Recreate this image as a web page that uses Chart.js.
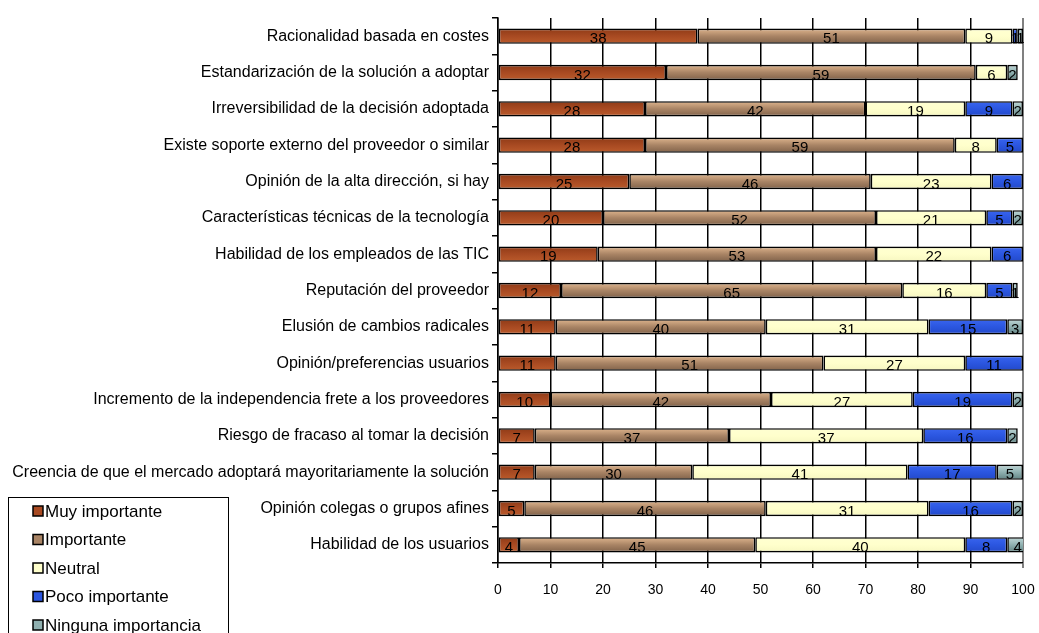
<!DOCTYPE html>
<html>
<head>
<meta charset="utf-8">
<script src="https://cdn.jsdelivr.net/npm/chart.js@4"></script>
<style>
  body { margin: 0; background: #fff; }
</style>
</head>
<body>
<canvas id="chart" width="1039" height="633"></canvas>
<script>
// Categories, top to bottom
const factores = [
  'Racionalidad basada en costes',
  'Estandarización de la solución a adoptar',
  'Irreversibilidad de la decisión adoptada',
  'Existe soporte externo del proveedor o similar',
  'Opinión de la alta dirección, si hay',
  'Características técnicas de la tecnología',
  'Habilidad de los empleados de las TIC',
  'Reputación del proveedor',
  'Elusión de cambios radicales',
  'Opinión/preferencias usuarios',
  'Incremento de la independencia frete a los proveedores',
  'Riesgo de fracaso al tomar la decisión',
  'Creencia de que el mercado adoptará mayoritariamente la solución',
  'Opinión colegas o grupos afines',
  'Habilidad de los usuarios'
];

const muyImportante   = [38, 32, 28, 28, 25, 20, 19, 12, 11, 11, 10, 7, 7, 5, 4];
const importante      = [51, 59, 42, 59, 46, 52, 53, 65, 40, 51, 42, 37, 30, 46, 45];
const neutral         = [9, 6, 19, 8, 23, 21, 22, 16, 31, 27, 27, 37, 41, 31, 40];
const pocoImportante  = [1, 0, 9, 5, 6, 5, 6, 5, 15, 11, 19, 16, 17, 16, 8];
const ningunaImport   = [1, 2, 2, 0, 0, 2, 0, 1, 3, 0, 2, 2, 5, 2, 4];

const xTicks = [0, 10, 20, 30, 40, 50, 60, 70, 80, 90, 100];

const FONT = "'Liberation Sans', Arial, sans-serif";

// [top, middle, bottom] colours of each series' bar shading
const shades = [
  ['#8E3A16', '#A84A22', '#BC5C2C'],
  ['#E2B890', '#A98465', '#7E6048'],
  ['#FFFFD2', '#FFFFCC', '#F6F6C0'],
  ['#3A66F0', '#2B56E0', '#2248C8'],
  ['#C4DADA', '#8FB0B0', '#5E8080']
];

function barFill(idx) {
  return function (c) {
    const chart = c.chart;
    const s = shades[idx];
    if (!chart.chartArea || c.dataIndex === undefined) return s[1];
    const yc = chart.scales.y.getPixelForValue(c.dataIndex);
    const g = chart.ctx.createLinearGradient(0, yc - 8, 0, yc + 8);
    g.addColorStop(0, s[0]);
    g.addColorStop(0.5, s[1]);
    g.addColorStop(1, s[2]);
    return g;
  };
}

// numbers centred in each segment
const valueLabels = {
  id: 'valueLabels',
  afterDatasetsDraw(chart) {
    const ctx = chart.ctx;
    ctx.save();
    ctx.font = '15px ' + FONT;
    ctx.fillStyle = '#000';
    ctx.textAlign = 'center';
    ctx.textBaseline = 'middle';
    chart.data.datasets.forEach((ds, i) => {
      chart.getDatasetMeta(i).data.forEach((bar, j) => {
        const v = ds.data[j];
        if (!v) return;
        ctx.fillText(String(v), (bar.x + bar.base) / 2, bar.y + 3);
      });
    });
    ctx.restore();
  }
};

// boxed legend in the lower left corner
const boxLegend = {
  id: 'boxLegend',
  afterDraw(chart) {
    const ctx = chart.ctx;
    ctx.save();
    ctx.strokeStyle = '#000';
    ctx.lineWidth = 1;
    ctx.strokeRect(8.5, 497.5, 220, 150);
    ctx.font = '17px ' + FONT;
    ctx.textBaseline = 'middle';
    chart.data.datasets.forEach((ds, i) => {
      const y = 511 + i * 28.5;
      ctx.fillStyle = shades[i][1];
      ctx.fillRect(33, y - 5, 10, 10);
      ctx.strokeStyle = '#000';
      ctx.lineWidth = 1.5;
      ctx.strokeRect(33, y - 5, 10, 10);
      ctx.fillStyle = '#000';
      ctx.fillText(ds.label, 45, y + 1);
    });
    ctx.restore();
  }
};

const ctx = document.getElementById('chart').getContext('2d');
const chart = new Chart(ctx, {
  type: 'bar',
  data: {
    labels: factores,
    datasets: [
      { label: 'Muy importante', data: muyImportante, backgroundColor: barFill(0) },
      { label: 'Importante', data: importante, backgroundColor: barFill(1) },
      { label: 'Neutral', data: neutral, backgroundColor: barFill(2) },
      { label: 'Poco importante', data: pocoImportante, backgroundColor: barFill(3) },
      { label: 'Ninguna importancia', data: ningunaImport, backgroundColor: barFill(4) }
    ]
  },
  options: {
    indexAxis: 'y',
    responsive: false,
    animation: false,
    devicePixelRatio: 1,
    layout: { padding: { top: 18, right: 16, left: 0, bottom: 0 } },
    datasets: {
      bar: {
        borderColor: '#000',
        borderWidth: 1.6,
        borderSkipped: false,
        barPercentage: 0.42,
        categoryPercentage: 1
      }
    },
    scales: {
      x: {
        stacked: true,
        min: 0,
        max: 100,
        afterFit: s => { s.height = 70; s.paddingRight = 0; s.paddingLeft = 0; },
        afterBuildTicks: s => { s.ticks = xTicks.map(v => ({ value: v })); },
        grid: {
          color: c => (c.tick && c.tick.value === 100) ? '#808080' : '#000',
          lineWidth: c => (c.tick && c.tick.value === 100) ? 2 : 1.5,
          tickLength: 5
        },
        border: { color: '#000', width: 1.5 },
        ticks: { color: '#000', font: { family: FONT, size: 14 }, padding: 14 }
      },
      y: {
        stacked: true,
        afterFit: s => { s.width = 498; },
        grid: { drawOnChartArea: false, color: '#000', lineWidth: 1.5, tickLength: 6 },
        border: { color: '#000', width: 1.5 },
        ticks: { color: '#000', font: { family: FONT, size: 16 }, padding: 3 }
      }
    },
    plugins: {
      legend: { display: false },
      tooltip: { enabled: false }
    }
  },
  plugins: [valueLabels, boxLegend]
});
</script>
</body>
</html>
